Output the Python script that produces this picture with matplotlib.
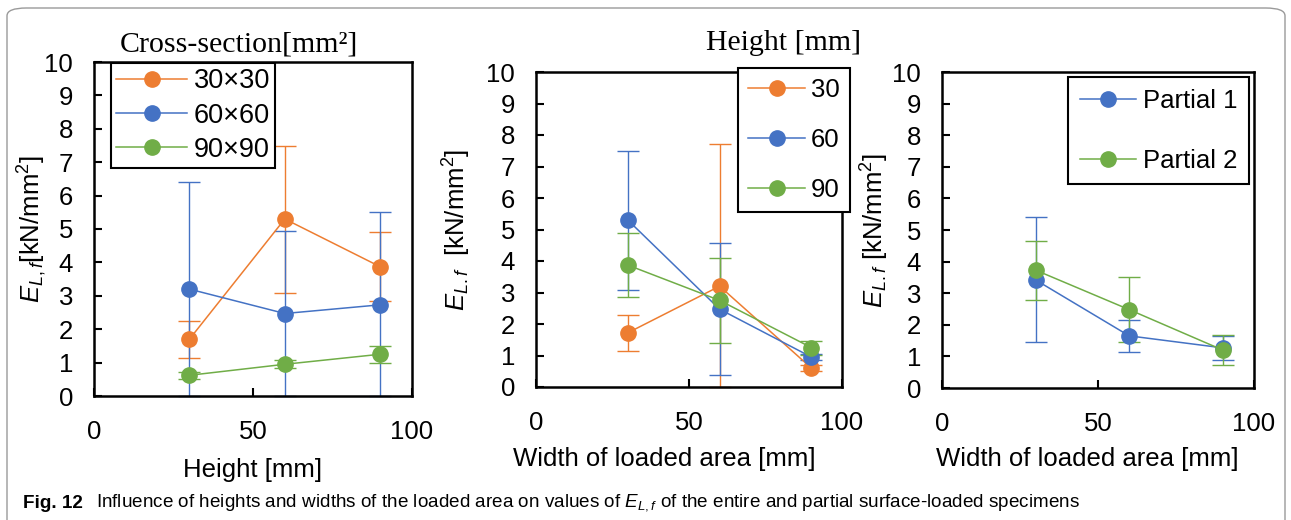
import matplotlib
matplotlib.use("Agg")
import matplotlib.pyplot as plt
from matplotlib.lines import Line2D
from matplotlib.patches import FancyBboxPatch

# ---- data ----
x_vals = [30, 60, 90]

# panel 1: cross-section
p1_labels = ["30×30", "60×60", "90×90"]
p1_means = [[1.70, 5.30, 3.87], [3.20, 2.47, 2.73], [0.62, 0.95, 1.25]]
p1_err_lo = [[0.55, 2.22, 1.03], [3.20, 2.47, 2.73], [0.10, 0.12, 0.25]]
p1_err_hi = [[0.55, 2.20, 1.03], [3.20, 2.48, 2.77], [0.10, 0.12, 0.25]]

# panel 2: height
p2_labels = ["30", "60", "90"]
p2_means = [[1.72, 3.20, 0.60], [5.30, 2.47, 0.95], [3.87, 2.75, 1.25]]
p2_err_lo = [[0.57, 3.20, 0.10], [2.22, 2.10, 0.10], [1.02, 1.35, 0.22]]
p2_err_hi = [[0.55, 4.50, 0.10], [2.18, 2.10, 0.10], [1.03, 1.35, 0.22]]

# panel 3: partial
p3_labels = ["Partial 1", "Partial 2"]
p3_means = [[3.42, 1.65, 1.27], [3.73, 2.48, 1.20]]
p3_err_lo = [[1.97, 0.50, 0.39], [0.93, 1.03, 0.48]]
p3_err_hi = [[1.98, 0.50, 0.38], [0.92, 1.04, 0.48]]

colors3 = ["#ED7D31", "#4472C4", "#70AD47"]
colors2 = ["#4472C4", "#70AD47"]

plt.rcParams["font.family"] = ["Liberation Sans", "DejaVu Sans"]
plt.rcParams["mathtext.fontset"] = "custom"
plt.rcParams["mathtext.rm"] = "Liberation Sans"
plt.rcParams["mathtext.it"] = "Liberation Sans:italic"

FS = 18.5
W, H = 1291, 520
fig = plt.figure(figsize=(W / 100, H / 100), dpi=100)

# rounded frame around the figure (bottom runs off the page)
frame = FancyBboxPatch((7 / W, 1 - 8 / H - 600 / H), 1278 / W, 600 / H,
                       boxstyle="round,pad=0,rounding_size=0.015",
                       transform=fig.transFigure, facecolor="none",
                       edgecolor="#9a9a9a", linewidth=1.0)
fig.patches.append(frame)


def px_axes(l, t, r, b):
    return fig.add_axes([l / W, 1 - b / H, (r - l) / W, (b - t) / H])


def style(ax, ylabel, xlabel, xl, yl):
    ax.set_xlim(0, 100)
    ax.set_ylim(0, 10)
    ax.set_xticks([0, 50, 100])
    ax.set_yticks(range(11))
    ax.tick_params(direction="in", length=6, width=1.5, labelsize=FS, pad=15)
    ax.tick_params(axis="x", pad=17)
    for s in ax.spines.values():
        s.set_linewidth(1.8)
        s.set_color("black")
    ax.set_xlabel(xlabel, fontsize=FS)
    ax.xaxis.set_label_coords(*xl)
    ax.set_ylabel(ylabel, fontsize=FS)
    ax.yaxis.set_label_coords(*yl)


def draw(ax, means, lo, hi, colors):
    for m, el, eh, c in zip(means, lo, hi, colors):
        ax.errorbar(x_vals, m, yerr=[el, eh], color=c, marker="o",
                    markersize=11, linewidth=1.1, elinewidth=1.0,
                    capsize=8, capthick=1.0, clip_on=False)


def legend(ax, labels, colors, l, t, spacing, pad, fs=FS, hl=2.2):
    handles = [Line2D([], [], color=c, marker="o", markersize=11,
                      linewidth=1.1) for c in colors]
    leg = ax.legend(handles, labels, loc="upper left",
                    bbox_to_anchor=(l / W, 1 - t / H),
                    bbox_transform=fig.transFigure, fontsize=fs,
                    frameon=True, fancybox=False, framealpha=1,
                    edgecolor="black", handlelength=hl, handletextpad=0.25,
                    labelspacing=spacing, borderpad=pad, borderaxespad=0)
    leg.get_frame().set_linewidth(1.5)
    leg.set_zorder(10)
    return leg


# panel 1
ax1 = px_axes(94, 62, 412, 396)
draw(ax1, p1_means, p1_err_lo, p1_err_hi, colors3)
style(ax1, "$E_{L,f}$[kN/mm$^2$]", "Height [mm]", (0.5, -0.185), (-0.14, 0.5))
legend(ax1, p1_labels, colors3, 111, 63, 0.3, 0.2, fs=19.5, hl=2.6)
fig.text(239 / W, 1 - 44 / H, "Cross-section[mm²]", ha="center", va="center",
         fontsize=21.5, family="Liberation Serif")

# panel 2
ax2 = px_axes(536, 72, 842, 387)
draw(ax2, p2_means, p2_err_lo, p2_err_hi, colors3)
style(ax2, "$E_{L.f}$  [kN/mm$^2$]", "Width of loaded area [mm]",
      (0.418, -0.19), (-0.205, 0.5))
legend(ax2, p2_labels, colors3, 738, 68, 1.0, 0.4)
fig.text(784 / W, 1 - 43 / H, "Height [mm]", ha="center", va="center",
         fontsize=21.5, family="Liberation Serif")

# panel 3
ax3 = px_axes(942, 72, 1254, 388)
draw(ax3, p3_means, p3_err_lo, p3_err_hi, colors2)
style(ax3, "$E_{L.f}$ [kN/mm$^2$]", "Width of loaded area [mm]",
      (0.466, -0.187), (-0.165, 0.5))
legend(ax3, p3_labels, colors2, 1068, 77, 1.4, 0.45)

# caption
fig.text(23 / W, 1 - 503 / H, "Fig. 12", fontsize=13.6, weight="bold",
         va="center")
fig.text(96 / W, 1 - 503 / H,
         "Influence of heights and widths of the loaded area on values of "
         "$E_{L,f}$ of the entire and partial surface-loaded specimens",
         fontsize=13.6, va="center")

fig.savefig("out.png", dpi=100)
